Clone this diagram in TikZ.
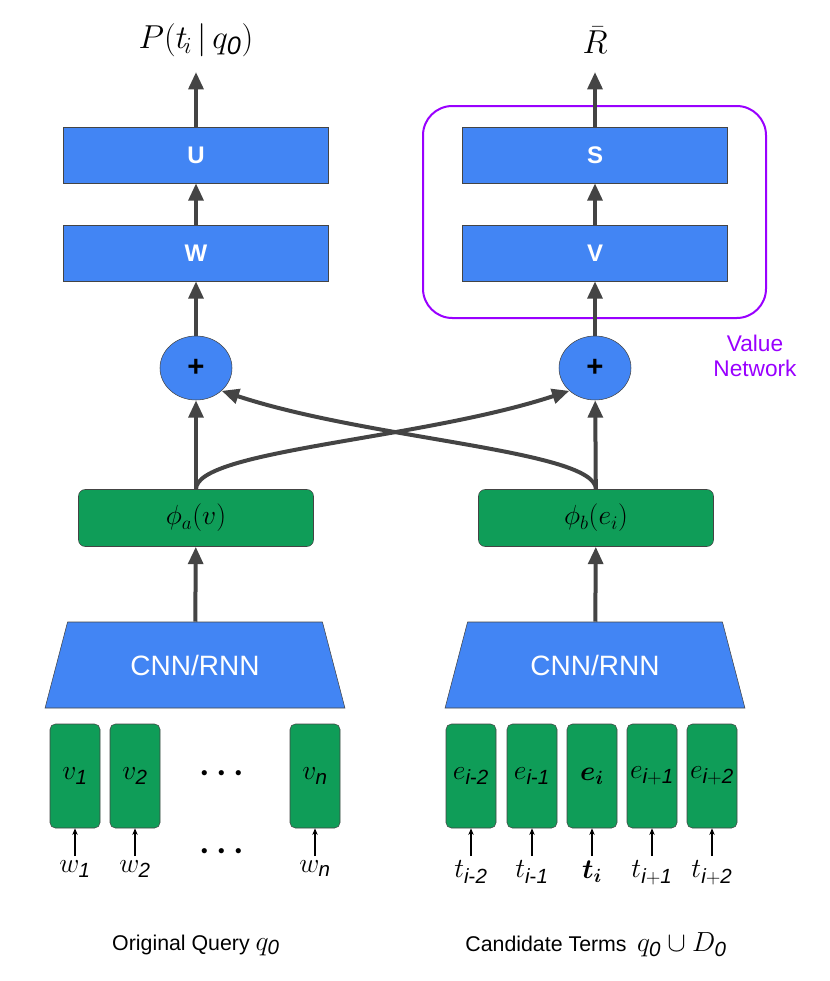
\documentclass[tikz,border=0pt]{standalone}
\usepackage{amsmath,amssymb,bm}
\usepackage{fontspec}
\setmainfont{Liberation Sans}
\usetikzlibrary{arrows.meta,shapes.geometric}
\definecolor{gblue}{HTML}{4285F4}
\definecolor{ggreen}{HTML}{0F9D58}
\definecolor{vpurple}{HTML}{9900FF}
\definecolor{arr}{HTML}{444444}
\tikzset{
  layer/.style={draw=arr,fill=gblue,minimum width=265pt*0.75,minimum height=56pt*0.75,inner sep=0pt,text=white,font=\fontsize{18}{18}\selectfont\bfseries},
  feat/.style={draw=arr,fill=ggreen,rounded corners=5pt,minimum width=235pt*0.75,minimum height=57pt*0.75,inner sep=0pt,font=\fontsize{21}{21}\selectfont},
  tok/.style={draw=arr,fill=ggreen,rounded corners=4pt,minimum width=50pt*0.75,minimum height=104pt*0.75,inner sep=0pt,font=\fontsize{22}{22}\selectfont},
  plus/.style={ellipse,draw=arr,fill=gblue,minimum width=72pt*0.75,minimum height=64pt*0.75,inner sep=0pt,font=\fontsize{22}{22}\selectfont\bfseries},
  enc/.style={trapezium,trapezium left angle=61,trapezium right angle=61,draw=arr,fill=gblue,minimum width=300pt*0.75,minimum height=86pt*0.75,inner sep=0pt,trapezium stretches=true,text=white,font=\fontsize{21}{21}\selectfont},
  big/.style={draw=arr,line width=3pt,-{Triangle[length=13pt,width=11pt]}},
  small/.style={draw=black,line width=0.8pt,-{Stealth[length=5pt,width=4pt]}},
  lbl/.style={font=\fontsize{22}{22}\selectfont},
}
\begin{document}
\begin{tikzpicture}[x=0.75pt,y=0.75pt,yscale=-1]
\useasboundingbox (0,0) rectangle (830,981);

% value network frame
\draw[vpurple,line width=1.5pt,rounded corners=22pt] (423,106) rectangle (766,318);
\node[text=vpurple,align=center,font=\fontsize{17}{19}\selectfont] (vn) at (755,356) {Value\\Network};

% upper layers
\node[layer] (U) at (196,155) {U};
\node[layer] (W) at (196,253) {W};
\node[layer] (S) at (595,155) {S};
\node[layer] (V) at (595,253) {V};
\node[plus] (pl) at (196,368) {+};
\node[plus] (pr) at (595,368) {+};
\node[feat] (fa) at (196,518) {$\phi_a(v)$};
\node[feat] (fb) at (596,518) {$\phi_b(e_i)$};
\node[enc] (cl) at (195,665) {CNN/RNN};
\node[enc] (cr) at (595,665) {CNN/RNN};

% outputs
\node[font=\fontsize{27}{27}\selectfont] (out1) at (196,40) {$P(t_{\!i}\,|\,q_{\mathit{0}})$};
\node[font=\fontsize{30}{30}\selectfont] (out2) at (595,40) {$\bar{R}$};
\coordinate (o1) at (196,72);
\coordinate (o2) at (595,72);

\draw[big] (U) -- (o1);
\draw[big] (W) -- (U);
\draw[big] (pl) -- (W);
\draw[big] (fa) -- (pl);
\draw[big] (cl) -- (fa);
\draw[big] (S) -- (o2);
\draw[big] (V) -- (S);
\draw[big] (pr) -- (V);
\draw[big] (fb) -- (pr);
\draw[big] (cr) -- (fb);
\draw[big] (fa.north) .. controls (196,450) and (420,440) .. (pr.south west);
\draw[big] (fb.north) .. controls (595,450) and (370,440) .. (pl.south east);

% query tokens
\foreach \x/\n/\v/\w in {75/q1/{v_{\mathit{1}}}/{w_{\mathit{1}}},135/q2/{v_{\mathit{2}}}/{w_{\mathit{2}}},315/qn/{v_{\mathit{n}}}/{w_{\mathit{n}}}}{
  \node[tok] (\n) at (\x,776) {$\v$};
  \node[lbl,anchor=north] (\n w) at (\x,856) {$\w$};
  \draw[small] (\n w.north) -- (\n);
}
\node[font=\fontsize{28}{28}\selectfont\bfseries] (d1) at (225,774) {$\boldsymbol{\cdots}$};
\node[font=\fontsize{28}{28}\selectfont\bfseries] (d2) at (225,852) {$\boldsymbol{\cdots}$};

% candidate tokens
\foreach \x/\n/\v/\w in {471/c1/{e_{\mathit{i\text{-}2}}}/{t_{\mathit{i\text{-}2}}},532/c2/{e_{\mathit{i\text{-}1}}}/{t_{\mathit{i\text{-}1}}},592/c3/{\boldsymbol{e_i}}/{\boldsymbol{t_i}},652/c4/{e_{\mathit{i+1}}}/{t_{\mathit{i+1}}},712/c5/{e_{\mathit{i+2}}}/{t_{\mathit{i+2}}}}{
  \node[tok] (\n) at (\x,776) {$\v$};
  \node[lbl,anchor=north] (\n w) at (\x,856) {$\w$};
  \draw[small] (\n w.north) -- (\n);
}

% captions
\node[font=\fontsize{16}{16}\selectfont] (cap1) at (196,945) {Original Query \fontsize{22}{22}\selectfont$q_{\mathit{0}}$};
\node[font=\fontsize{16}{16}\selectfont] (cap2) at (596,945) {Candidate Terms \fontsize{22}{22}\selectfont$\,q_{\mathit{0}}\cup D_{\mathit{0}}$};
\end{tikzpicture}
\end{document}
